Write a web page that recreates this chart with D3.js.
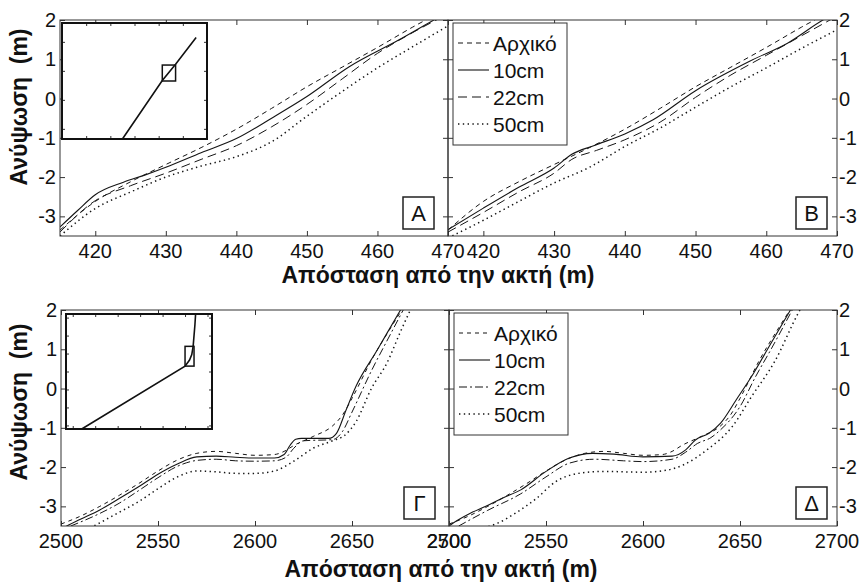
<!DOCTYPE html>
<html>
<head>
<meta charset="utf-8">
<script src="https://cdn.jsdelivr.net/npm/d3@7"></script>
<style>
  body { margin: 0; background: #fff; }
  svg { display: block; }
  text { font-family: "Liberation Sans", Arial, sans-serif; fill: #111; }
</style>
</head>
<body>
<svg id="fig" width="861" height="583"></svg>
<script>
// ---- Series names and tick labels ----
const seriesNames = ["Αρχικό", "10cm", "22cm", "50cm"];
const topXTicks = [420, 430, 440, 450, 460, 470];
const bottomXTicks = [2500, 2550, 2600, 2650, 2700];
const yTicks = [-3, -2, -1, 0, 1, 2];
const xTitle = "Απόσταση από την ακτή (m)";
const yTitle = "Ανύψωση  (m)";

// ---- Profiles, section 415-470 m: [distance, elevation] ----
const initialTop = [[415,-3.35],[420,-2.62],[425,-2.12],[430,-1.68],[435,-1.25],[440,-0.78],[445,-0.25],[450,0.3],[455,0.8],[460,1.3],[465,1.82],[470,2.3]];
const a10 = [[415,-3.27],[417.5,-2.85],[420,-2.45],[424,-2.13],[427,-1.95],[430,-1.75],[435,-1.38],[440,-1.02],[445,-0.5],[450,0.05],[456,0.81],[463,1.49],[468,2.0],[470,2.2]];
const a22 = [[415,-3.4],[420,-2.6],[425,-2.22],[430,-1.9],[435,-1.55],[440,-1.2],[445,-0.72],[450,-0.15],[455,0.5],[460,1.15],[465,1.68],[470,2.15]];
const a50 = [[415,-3.5],[420,-2.8],[425,-2.38],[430,-2.0],[435,-1.72],[440,-1.48],[445,-1.1],[450,-0.45],[455,0.18],[460,0.78],[465,1.32],[470,1.85]];
const b10 = [[415,-3.34],[420,-2.79],[425,-2.26],[430,-1.77],[432.5,-1.42],[435.6,-1.2],[440,-0.9],[444,-0.54],[450,0.2],[458,0.98],[463,1.41],[468,2.0],[470,2.2]];
const b22 = [[415,-3.4],[420,-2.9],[425,-2.38],[430,-1.9],[432.5,-1.55],[436,-1.32],[440,-1.05],[445,-0.6],[450,0.03],[455,0.6],[460,1.1],[465,1.6],[470,2.1]];
const b50 = [[415,-3.55],[420,-3.1],[425,-2.62],[430,-2.15],[435,-1.75],[440,-1.22],[445,-0.75],[450,-0.22],[455,0.3],[460,0.78],[465,1.28],[470,1.75]];

// ---- Profiles, section 2500-2700 m ----
const initialBottom = [[2500,-3.45],[2510,-3.25],[2520,-3.0],[2530,-2.72],[2540,-2.42],[2550,-2.1],[2560,-1.82],[2570,-1.65],[2580,-1.6],[2590,-1.65],[2600,-1.7],[2610,-1.68],[2615,-1.6],[2620,-1.45],[2630,-1.22],[2640,-0.95],[2645,-0.68],[2650,-0.25],[2660,0.72],[2670,1.55],[2677,2.1]];
const g10 = [[2500,-3.58],[2503,-3.5],[2510,-3.33],[2520,-3.09],[2530,-2.8],[2540,-2.5],[2550,-2.18],[2560,-1.92],[2570,-1.74],[2580,-1.72],[2590,-1.75],[2600,-1.77],[2610,-1.77],[2615,-1.68],[2618,-1.45],[2621,-1.29],[2624,-1.27],[2638,-1.27],[2642,-1.14],[2647,-0.54],[2652,0.05],[2663,0.98],[2675,2.0],[2678,2.25]];
const g22 = [[2505,-3.5],[2510,-3.4],[2520,-3.18],[2530,-2.92],[2540,-2.6],[2550,-2.27],[2560,-1.98],[2570,-1.83],[2580,-1.8],[2590,-1.84],[2600,-1.85],[2610,-1.84],[2616,-1.75],[2620,-1.52],[2625,-1.33],[2640,-1.3],[2645,-1.1],[2650,-0.6],[2660,0.45],[2670,1.4],[2678,2.15]];
const g50 = [[2515,-3.55],[2520,-3.42],[2530,-3.15],[2540,-2.88],[2550,-2.55],[2560,-2.25],[2570,-2.1],[2580,-2.12],[2590,-2.16],[2600,-2.16],[2610,-2.1],[2620,-1.85],[2630,-1.52],[2640,-1.33],[2646,-1.2],[2652,-0.85],[2660,0.0],[2668,0.65],[2675,1.45],[2681,2.1]];
const d10 = [[2500,-3.5],[2502,-3.43],[2510,-3.2],[2519,-3.0],[2528,-2.78],[2537,-2.58],[2550,-2.11],[2562,-1.77],[2574,-1.65],[2585,-1.67],[2600,-1.74],[2615,-1.72],[2622,-1.56],[2627,-1.31],[2634,-1.14],[2640,-0.88],[2648,-0.29],[2657,0.39],[2665,1.07],[2676,2.0],[2679,2.25]];
const d22 = [[2505,-3.5],[2520,-3.1],[2537,-2.68],[2550,-2.25],[2562,-1.9],[2575,-1.8],[2590,-1.84],[2600,-1.86],[2615,-1.8],[2622,-1.62],[2628,-1.4],[2635,-1.25],[2640,-1.05],[2650,-0.46],[2658,0.3],[2666,1.0],[2678,2.1]];
const d50 = [[2518,-3.55],[2525,-3.43],[2535,-3.15],[2545,-2.8],[2555,-2.37],[2568,-2.15],[2580,-2.11],[2600,-2.13],[2612,-2.08],[2621,-1.94],[2633,-1.56],[2646,-0.97],[2656,-0.2],[2668,0.7],[2680,1.92],[2682,2.1]];

// ---- Overview profiles for the inset maps ----
const overviewTop = [[250,-23.5],[415,-3.35],[470,2.3],[555,11.5]];
const overviewBottom = [[200,-21],[2500,-3.5],[2600,-1.8],[2650,-0.3],[2680,2],[2720,8],[2735,11]];

// ---- Drawing ----
const svg = d3.select("#fig");

// stroke patterns per series: Αρχικό, 10cm, 22cm, 50cm
const topStyles = ["5,4", null, "9,5", "1.4,3.4"];
const bottomStyles = ["4,4", null, "8,3,2,3", "1.4,3.4"];

const panels = [
  { key: "A", box: [60, 448, 20, 236], xDomain: [415, 470], xTicks: topXTicks,
    series: [initialTop, a10, a22, a50], dash: topStyles, yLabels: "left",
    inset: { box: [62, 207, 23, 139], x: [0, 600], y: [-23.5, 16.5], line: overviewTop } },
  { key: "B", box: [448, 837, 20, 236], xDomain: [415, 470], xTicks: topXTicks,
    series: [initialTop, b10, b22, b50], dash: topStyles, yLabels: "right",
    legend: true },
  { key: "Γ", box: [61, 449, 310, 526], xDomain: [2500, 2700], xTicks: bottomXTicks,
    series: [initialBottom, g10, g22, g50], dash: bottomStyles, yLabels: "left",
    inset: { box: [66, 212, 314, 429], x: [-150, 3100], y: [-21, 11], line: overviewBottom } },
  { key: "Δ", box: [449, 837, 310, 526], xDomain: [2500, 2700], xTicks: bottomXTicks,
    series: [initialBottom, d10, d22, d50], dash: bottomStyles, yLabels: "right",
    legend: true }
];

panels.forEach((p, i) => {
  const [x0, x1, y0, y1] = p.box;
  const x = d3.scaleLinear().domain(p.xDomain).range([x0, x1]);
  const y = d3.scaleLinear().domain([-3.5, 2]).range([y1, y0]);
  const g = svg.append("g");

  const clipId = "clip" + i;
  svg.append("clipPath").attr("id", clipId)
    .append("rect").attr("x", x0).attr("y", y0).attr("width", x1 - x0).attr("height", y1 - y0);

  // profile curves
  const line = d3.line().x(d => x(d[0])).y(d => y(d[1])).curve(d3.curveMonotoneX);
  const curves = g.append("g").attr("clip-path", `url(#${clipId})`);
  p.series.forEach((s, k) => {
    curves.append("path")
      .attr("d", line(s))
      .attr("fill", "none")
      .attr("stroke", "#151515")
      .attr("stroke-width", k === 3 ? 1.5 : (k === 1 ? 1.1 : 1))
      .attr("stroke-dasharray", p.dash[k]);
  });

  // frame
  g.append("rect").attr("x", x0).attr("y", y0).attr("width", x1 - x0).attr("height", y1 - y0)
    .attr("fill", "none").attr("stroke", "#333").attr("stroke-width", 1);

  // inward ticks: bottom/top and left/right
  const tl = 5;
  g.append("g").attr("transform", `translate(0,${y1})`)
    .call(d3.axisBottom(x).tickValues(p.xTicks).tickSize(-tl).tickFormat(""))
    .call(a => a.select(".domain").remove());
  g.append("g").attr("transform", `translate(0,${y0})`)
    .call(d3.axisTop(x).tickValues(p.xTicks).tickSize(-tl).tickFormat(""))
    .call(a => a.select(".domain").remove());
  g.append("g").attr("transform", `translate(${x0},0)`)
    .call(d3.axisLeft(y).tickValues(yTicks).tickSize(-tl).tickFormat(""))
    .call(a => a.select(".domain").remove());
  g.append("g").attr("transform", `translate(${x1},0)`)
    .call(d3.axisRight(y).tickValues(yTicks).tickSize(-tl).tickFormat(""))
    .call(a => a.select(".domain").remove());
  g.selectAll(".tick line").attr("stroke", "#333");

  // x tick labels
  g.selectAll(".xlab").data(p.xTicks).join("text")
    .attr("x", d => x(d)).attr("y", y1 + 22)
    .attr("text-anchor", "middle").attr("font-size", 20)
    .text(d => d);

  // y tick labels
  g.selectAll(".ylab").data(yTicks).join("text")
    .attr("x", p.yLabels === "left" ? x0 - 4 : x1 + 2)
    .attr("y", d => y(d) + 7)
    .attr("text-anchor", p.yLabels === "left" ? "end" : "start")
    .attr("font-size", 20)
    .text(d => d);

  // panel letter
  const bw = 31, bh = 32;
  const bx = x1 - (p.yLabels === "left" ? 14 : 10) - bw, by = y1 - 7 - bh;
  g.append("rect").attr("x", bx).attr("y", by).attr("width", bw).attr("height", bh)
    .attr("fill", "#fff").attr("stroke", "#222").attr("stroke-width", 1.5);
  g.append("text").attr("x", bx + bw / 2).attr("y", by + bh / 2 + 8)
    .attr("text-anchor", "middle").attr("font-size", 22).text(p.key);

  // legend
  if (p.legend) {
    const lx = x0 + 5, ly = y0 + 3, lw = 114, lh = 122;
    const lg = g.append("g");
    lg.append("rect").attr("x", lx).attr("y", ly).attr("width", lw).attr("height", lh)
      .attr("fill", "#fff").attr("stroke", "#333").attr("stroke-width", 1);
    seriesNames.forEach((name, k) => {
      const cy = ly + 20 + k * 27;
      lg.append("line").attr("x1", lx + 5).attr("x2", lx + 36).attr("y1", cy).attr("y2", cy)
        .attr("stroke", "#151515").attr("stroke-width", k === 3 ? 1.5 : 1.1)
        .attr("stroke-dasharray", p.dash[k]);
      lg.append("text").attr("x", lx + 40).attr("y", cy + 8).attr("font-size", 21).text(name);
    });
  }

  // inset overview map with the zoomed window marked
  if (p.inset) {
    const [ix0, ix1, iy0, iy1] = p.inset.box;
    const ixs = d3.scaleLinear().domain(p.inset.x).range([ix0, ix1]);
    const iys = d3.scaleLinear().domain(p.inset.y).range([iy1, iy0]);
    const ig = g.append("g");
    ig.append("rect").attr("x", ix0).attr("y", iy0).attr("width", ix1 - ix0).attr("height", iy1 - iy0)
      .attr("fill", "#fff");
    const il = d3.line().x(d => ixs(d[0])).y(d => iys(d[1]));
    ig.append("path").attr("d", il(p.inset.line)).attr("fill", "none")
      .attr("stroke", "#111").attr("stroke-width", 1.6);
    ig.append("rect")
      .attr("x", ixs(p.xDomain[0])).attr("y", iys(2))
      .attr("width", ixs(p.xDomain[1]) - ixs(p.xDomain[0]))
      .attr("height", iys(-3.5) - iys(2))
      .attr("fill", "none").attr("stroke", "#111").attr("stroke-width", 1.5);
    const it = 3;
    ig.append("g").attr("transform", `translate(0,${iy1})`)
      .call(d3.axisBottom(ixs).ticks(5).tickSize(-it).tickFormat(""));
    ig.append("g").attr("transform", `translate(0,${iy0})`)
      .call(d3.axisTop(ixs).ticks(5).tickSize(-it).tickFormat(""));
    ig.append("g").attr("transform", `translate(${ix0},0)`)
      .call(d3.axisLeft(iys).ticks(5).tickSize(-it).tickFormat(""));
    ig.append("g").attr("transform", `translate(${ix1},0)`)
      .call(d3.axisRight(iys).ticks(5).tickSize(-it).tickFormat(""));
    ig.selectAll(".domain").remove();
    ig.selectAll(".tick line").attr("stroke", "#333");
    ig.append("rect").attr("x", ix0).attr("y", iy0).attr("width", ix1 - ix0).attr("height", iy1 - iy0)
      .attr("fill", "none").attr("stroke", "#111").attr("stroke-width", 2);
  }
});

// axis titles
[[438, 283], [441, 577]].forEach(([cx, cy]) => {
  svg.append("text").attr("x", cx).attr("y", cy).attr("text-anchor", "middle")
    .attr("font-size", 23).attr("font-weight", "bold").text(xTitle);
});
[[107, 19], [402, 19]].forEach(([cy, cx]) => {
  svg.append("text").attr("transform", `translate(${cx + 8},${cy}) rotate(-90)`)
    .attr("text-anchor", "middle").attr("font-size", 23).attr("font-weight", "bold")
    .style("white-space", "pre").text(yTitle);
});
</script>
</body>
</html>
